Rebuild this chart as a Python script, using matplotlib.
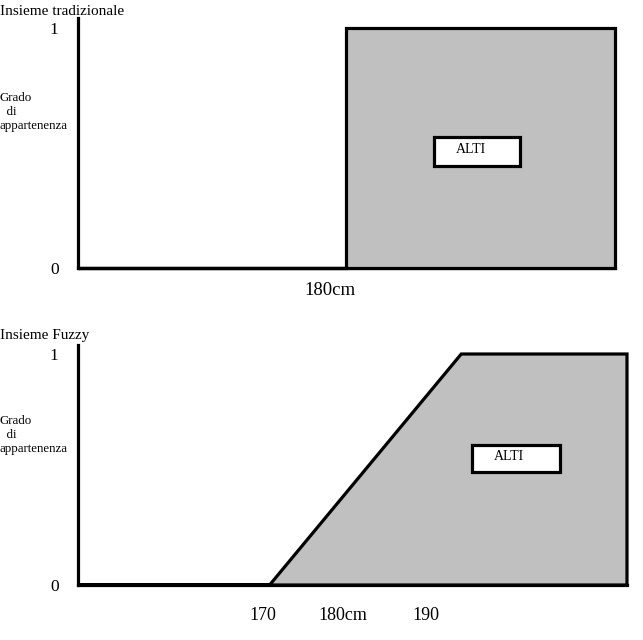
import matplotlib
matplotlib.use("Agg")
import matplotlib.pyplot as plt
from matplotlib.patches import Rectangle

plt.rcParams['font.family'] = ['Liberation Serif', 'DejaVu Serif']

# insieme tradizionale: gradino a 180 cm
crisp_x = [150, 180, 180, 210, 210]
crisp_y = [0, 0, 1, 1, 0]
crisp_ticks = [178.1]
crisp_labels = ['180cm']

# insieme fuzzy: rampa da 170 a 190 cm
fuzzy_x = [150, 170, 190, 207.3, 207.3]
fuzzy_y = [0, 0, 1, 1, 0]
fuzzy_ticks = [169.3, 177.6, 186.3]
fuzzy_labels = ['170', '180cm', '190']

GRAY = '#c0c0c0'
LW = 2.3

fig = plt.figure(figsize=(6.43, 6.40), dpi=100)

def setup(ax, xlim, ytop, title, left, title_y):
    ax.set_xlim(*xlim)
    ax.set_ylim(0, ytop)
    for s in ['top', 'right']:
        ax.spines[s].set_visible(False)
    for s in ['left', 'bottom']:
        ax.spines[s].set_linewidth(LW)
        ax.spines[s].set_capstyle('projecting')
    ax.set_yticks([0, 1])
    ax.set_yticklabels(['0', '1'], fontsize=12.5)
    ax.tick_params(axis='y', length=0, pad=14)
    ax.tick_params(axis='x', length=0, pad=12, labelsize=13)
    ax.text(left, 0.625, 'Grado\n  di\nappartenenza', transform=ax.transAxes,
            fontsize=9.3, va='center', ha='left', linespacing=1.2)
    ax.text(left, title_y, title, transform=ax.transAxes, fontsize=11,
            va='baseline', ha='left')

def alti_box(ax, x0, y0):
    ax.add_patch(Rectangle((x0, y0), 0.16, 0.115, transform=ax.transAxes,
                           facecolor='white', edgecolor='black', lw=LW, zorder=4))
    ax.text(x0 + 0.04, y0 + 0.064, 'ALTI', transform=ax.transAxes,
            fontsize=10, va='center', ha='left', zorder=5)

# pannello superiore
ax1 = fig.add_axes([78/643, 1 - 268/640, 537/643, 250/640])
setup(ax1, (150, 210), 1.042, 'Insieme tradizionale', -78/537, 1.012)
ax1.fill(crisp_x, crisp_y, facecolor=GRAY, edgecolor='black', lw=LW,
         zorder=3, clip_on=False)
ax1.set_xticks(crisp_ticks)
ax1.set_xticklabels(crisp_labels)
ax1.tick_params(axis='x', pad=10, labelsize=13.5)
alti_box(ax1, 0.663, 0.41)

# pannello inferiore
ax2 = fig.add_axes([78/643, 1 - 585/640, 549/643, 240/640])
setup(ax2, (150, 207.3), 1.039, 'Insieme Fuzzy', -78/549, 1.025)
ax2.fill(fuzzy_x, fuzzy_y, facecolor=GRAY, edgecolor='black', lw=LW,
         zorder=3, clip_on=False)
ax2.set_xticks(fuzzy_ticks)
ax2.set_xticklabels(fuzzy_labels)
ax2.tick_params(axis='x', pad=16)
alti_box(ax2, 0.718, 0.47)

fig.savefig('out.png', dpi=100)
